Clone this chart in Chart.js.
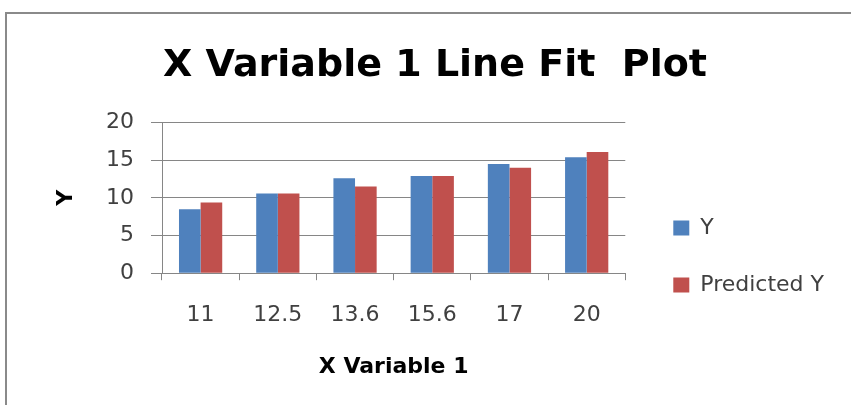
<!DOCTYPE html>
<html lang="en">
<head>
    <meta charset="UTF-8" />
    <title>X Variable 1 Line Fit Plot</title>
    <script src="https://cdn.jsdelivr.net/npm/chart.js"></script>
    <style>
        html, body { margin: 0; padding: 0; background: #fff; }
        #wrap { position: relative; width: 851px; height: 405px; overflow: hidden; }
        #frame {
            position: absolute; left: 5px; top: 12px; width: 900px; height: 500px;
            border-left: 2px solid #8a8a8a; border-top: 2px solid #8a8a8a;
            pointer-events: none;
        }
        canvas { position: absolute; left: 0; top: 0; }
    </style>
</head>
<body>
    <div id="wrap">
        <canvas id="fitChart" width="851" height="405"></canvas>
        <div id="frame"></div>
    </div>

    <script>
        // data
        const categories = ['11', '12.5', '13.6', '15.6', '17', '20'];
        const yValues = [8.5, 10.6, 12.6, 12.9, 14.5, 15.4];
        const predictedValues = [9.4, 10.6, 11.5, 12.9, 14.0, 16.1];
        const yTicks = [0, 5, 10, 15, 20];

        const gridColor = '#868686';
        const tickFont = { family: 'DejaVu Sans', size: 22 };
        const boldFont = { family: 'DejaVu Sans', size: 22, weight: 'bold' };

        const ctx = document.getElementById('fitChart').getContext('2d');

        const fitChart = new Chart(ctx, {
            type: 'bar',
            data: {
                labels: categories,
                datasets: [
                    { label: 'Y', data: yValues, backgroundColor: '#4F81BD' },
                    { label: 'Predicted Y', data: predictedValues, backgroundColor: '#C0504D' }
                ]
            },
            options: {
                responsive: false,
                animation: false,
                devicePixelRatio: 1,
                categoryPercentage: 0.56,
                barPercentage: 1,
                // left padding also moves the centred title to the right
                layout: { padding: { left: 36, top: 0, bottom: 0, right: 17 } },
                plugins: {
                    tooltip: { enabled: false },
                    title: {
                        display: true,
                        text: 'X Variable 1 Line Fit  Plot',
                        color: '#000',
                        font: { family: 'DejaVu Sans', size: 38, weight: 'bold' },
                        padding: { top: 43, bottom: 34 }
                    },
                    legend: {
                        position: 'right',
                        maxWidth: 240,
                        // empty title only pushes the items down
                        title: { display: true, text: ' ', font: { size: 10 }, padding: { top: 96, bottom: 0 } },
                        labels: {
                            boxWidth: 16,
                            boxHeight: 15,
                            padding: 35,
                            color: '#404040',
                            font: tickFont
                        }
                    }
                },
                scales: {
                    x: {
                        offset: true,
                        grid: { offset: true, drawOnChartArea: false, color: gridColor, tickLength: 7 },
                        border: { color: gridColor },
                        ticks: { color: '#404040', font: tickFont, padding: 22, maxRotation: 0 },
                        title: {
                            display: true, text: 'X Variable 1', color: '#000', font: boldFont,
                            padding: { top: 3, bottom: 25 }
                        }
                    },
                    y: {
                        min: 0,
                        max: 20,
                        afterBuildTicks: (axis) => { axis.ticks = yTicks.map(v => ({ value: v })); },
                        grid: { color: gridColor, tickLength: 11 },
                        border: { color: gridColor },
                        ticks: { color: '#404040', font: tickFont, padding: 17 },
                        title: {
                            display: true, text: 'Y', color: '#000', font: boldFont,
                            padding: { top: 17, bottom: 0 }
                        },
                        afterFit: (axis) => { axis.width = 126; }
                    },
                    // invisible axis, keeps a gap between plot and legend
                    gap: {
                        position: 'right',
                        display: true,
                        grid: { display: false },
                        border: { display: false },
                        ticks: { display: false },
                        afterFit: (axis) => { axis.width = 13; }
                    }
                }
            }
        });
    </script>
</body>
</html>
